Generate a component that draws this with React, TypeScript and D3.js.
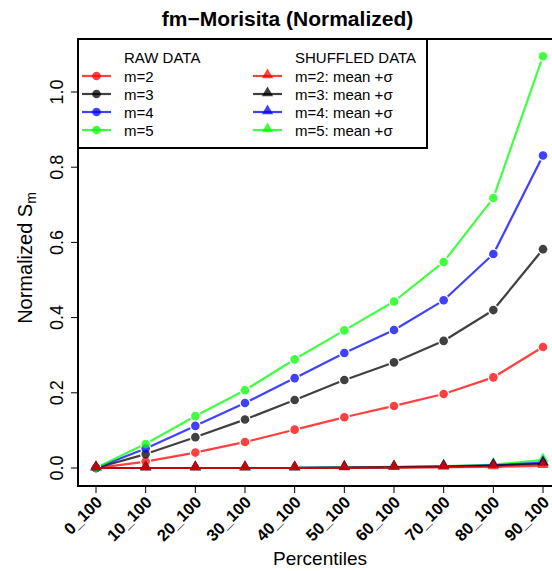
import { useEffect, useRef } from 'react'
import * as d3 from 'd3'

const percentiles = ["0_100", "10_100", "20_100", "30_100", "40_100", "50_100", "60_100", "70_100", "80_100", "90_100"];

// raw data, normalized S_m
const rawM2 = [0, 0.017, 0.041, 0.069, 0.102, 0.135, 0.165, 0.197, 0.241, 0.322];
const rawM3 = [0, 0.037, 0.082, 0.129, 0.181, 0.234, 0.281, 0.338, 0.42, 0.582];
const rawM4 = [0, 0.052, 0.112, 0.173, 0.239, 0.306, 0.367, 0.446, 0.569, 0.831];
const rawM5 = [0, 0.064, 0.138, 0.207, 0.289, 0.366, 0.443, 0.548, 0.718, 1.095];

// shuffled data, mean + sigma
const shufM2 = [0, 0, 0, 0, 0, 0, 0.001, 0.002, 0.003, 0.006];
const shufM3 = [0, 0, 0, 0, 0, 0.001, 0.002, 0.003, 0.006, 0.011];
const shufM4 = [0, 0, 0, 0, 0, 0.001, 0.002, 0.004, 0.007, 0.014];
const shufM5 = [0, 0, 0, 0, 0, 0.001, 0.003, 0.005, 0.009, 0.021];

const yTicks = [0, 0.2, 0.4, 0.6, 0.8, 1.0];

const seriesNames = ["m=2", "m=3", "m=4", "m=5"];
const shufNames = ["m=2: mean +\u03c3", "m=3: mean +\u03c3", "m=4: mean +\u03c3", "m=5: mean +\u03c3"];
const colors = ["rgba(255,0,0,0.75)", "rgba(0,0,0,0.75)", "rgba(0,0,255,0.75)", "rgba(0,255,0,0.75)"];

const FONT = '"Liberation Sans", Arial, Helvetica, sans-serif';

// R type="b": line segments stop short of each point
function gapped(pts: [number, number][], gap: number) {
	const segs: number[][] = [];
	for (let i = 0; i < pts.length - 1; i++) {
		const [x1, y1] = pts[i];
		const [x2, y2] = pts[i + 1];
		const len = Math.hypot(x2 - x1, y2 - y1);
		if (len <= 2 * gap) continue;
		const ux = (x2 - x1) / len, uy = (y2 - y1) / len;
		segs.push([x1 + ux * gap, y1 + uy * gap, x2 - ux * gap, y2 - uy * gap]);
	}
	return segs;
}

export default function App() {
	const ref = useRef<HTMLDivElement>(null);

	useEffect(() => {
		const W = 552, H = 571;
		d3.select(ref.current).selectAll("*").remove();
		const svg = d3.select(ref.current)
			.append("svg")
			.attr("width", W)
			.attr("height", H)
			.style("position", "absolute")
			.style("left", "0px")
			.style("top", "0px")
			.style("background", "#fff")
			.style("font-family", FONT);

		const box = { left: 78, top: 39, right: 562, bottom: 486 };

		const x = d3.scaleLinear().domain([0, percentiles.length - 1]).range([96, 543]);
		const y = d3.scaleLinear().domain([0, 1]).range([468, 92]);

		// title
		svg.append("text")
			.attr("x", 287.5).attr("y", 26)
			.attr("text-anchor", "middle")
			.attr("font-size", 21).attr("font-weight", "bold")
			.text("fm\u2212Morisita (Normalized)");

		// series
		const raw = [rawM2, rawM3, rawM4, rawM5];
		const shuf = [shufM2, shufM3, shufM4, shufM5];
		const tri = d3.symbol(d3.symbolTriangle, 55);

		raw.forEach((vals, k) => {
			const pts = vals.map((v, i) => [x(i), y(v)] as [number, number]);
			svg.append("g").selectAll("line")
				.data(gapped(pts, 5.5))
				.join("line")
				.attr("x1", d => d[0]).attr("y1", d => d[1])
				.attr("x2", d => d[2]).attr("y2", d => d[3])
				.attr("stroke", colors[k]).attr("stroke-width", 2.2);
			svg.append("g").selectAll("circle")
				.data(pts)
				.join("circle")
				.attr("cx", d => d[0]).attr("cy", d => d[1])
				.attr("r", 4.3)
				.attr("fill", colors[k]);
		});

		[3, 2, 1, 0].forEach(k => {
			const pts = shuf[k].map((v, i) => [x(i), y(v)] as [number, number]);
			svg.append("g").selectAll("line")
				.data(gapped(pts, 4))
				.join("line")
				.attr("x1", d => d[0]).attr("y1", d => d[1])
				.attr("x2", d => d[2]).attr("y2", d => d[3])
				.attr("stroke", colors[k]).attr("stroke-width", 2.2);
			svg.append("g").selectAll("path")
				.data(pts)
				.join("path")
				.attr("transform", d => `translate(${d[0]},${d[1] - 1})`)
				.attr("d", tri())
				.attr("fill", colors[k]);
		});

		// plot box
		svg.append("rect")
			.attr("x", box.left).attr("y", box.top)
			.attr("width", box.right - box.left).attr("height", box.bottom - box.top)
			.attr("fill", "none").attr("stroke", "#000").attr("stroke-width", 2);

		// y axis
		const yg = svg.append("g");
		yg.selectAll("line")
			.data(yTicks)
			.join("line")
			.attr("x1", box.left - 7).attr("x2", box.left)
			.attr("y1", d => y(d)).attr("y2", d => y(d))
			.attr("stroke", "#000").attr("stroke-width", 1);
		yg.selectAll("text")
			.data(yTicks)
			.join("text")
			.attr("transform", d => `translate(63,${y(d)}) rotate(-90)`)
			.attr("text-anchor", "middle")
			.attr("font-size", 18)
			.text(d => d3.format(".1f")(d));

		const yl = svg.append("text")
			.attr("transform", "translate(32,258) rotate(-90)")
			.attr("text-anchor", "middle")
			.attr("font-size", 20);
		yl.append("tspan").text("Normalized S");
		yl.append("tspan").attr("dy", 4).attr("font-size", 14).text("m");

		// x axis
		const xg = svg.append("g");
		xg.selectAll("line")
			.data(percentiles)
			.join("line")
			.attr("x1", (d, i) => x(i)).attr("x2", (d, i) => x(i))
			.attr("y1", box.bottom).attr("y2", box.bottom + 7)
			.attr("stroke", "#000").attr("stroke-width", 1);
		xg.selectAll("text")
			.data(percentiles)
			.join("text")
			.attr("transform", (d, i) => `translate(${x(i) + 3},${box.bottom + 13}) rotate(-45)`)
			.attr("text-anchor", "end")
			.attr("dominant-baseline", "central")
			.attr("font-size", 16.5).attr("font-weight", "bold")
			.text(d => d);

		svg.append("text")
			.attr("x", 320).attr("y", 565)
			.attr("text-anchor", "middle")
			.attr("font-size", 19)
			.text("Percentiles");

		// legend
		const lg = svg.append("g");
		lg.append("rect")
			.attr("x", 78).attr("y", 39)
			.attr("width", 349).attr("height", 109)
			.attr("fill", "#fff").attr("stroke", "#000").attr("stroke-width", 2);
		lg.append("text").attr("x", 124).attr("y", 63).attr("font-size", 15).text("RAW DATA");
		lg.append("text").attr("x", 295).attr("y", 63).attr("font-size", 15).text("SHUFFLED DATA");
		const rows = [76, 94, 112, 130];
		seriesNames.forEach((name, k) => {
			const ry = rows[k];
			lg.append("line").attr("x1", 82).attr("x2", 111).attr("y1", ry).attr("y2", ry)
				.attr("stroke", colors[k]).attr("stroke-width", 2.2);
			lg.append("circle").attr("cx", 96.5).attr("cy", ry).attr("r", 4.3).attr("fill", colors[k]);
			lg.append("text").attr("x", 124).attr("y", ry + 5.5).attr("font-size", 15).text(name);

			lg.append("line").attr("x1", 253).attr("x2", 282).attr("y1", ry).attr("y2", ry)
				.attr("stroke", colors[k]).attr("stroke-width", 2.2);
			lg.append("path").attr("transform", `translate(267.5,${ry - 1})`).attr("d", tri()).attr("fill", colors[k]);
			lg.append("text").attr("x", 295).attr("y", ry + 5.5).attr("font-size", 15).text(shufNames[k]);
		});
	}, []);

	return <div ref={ref} />;
}
